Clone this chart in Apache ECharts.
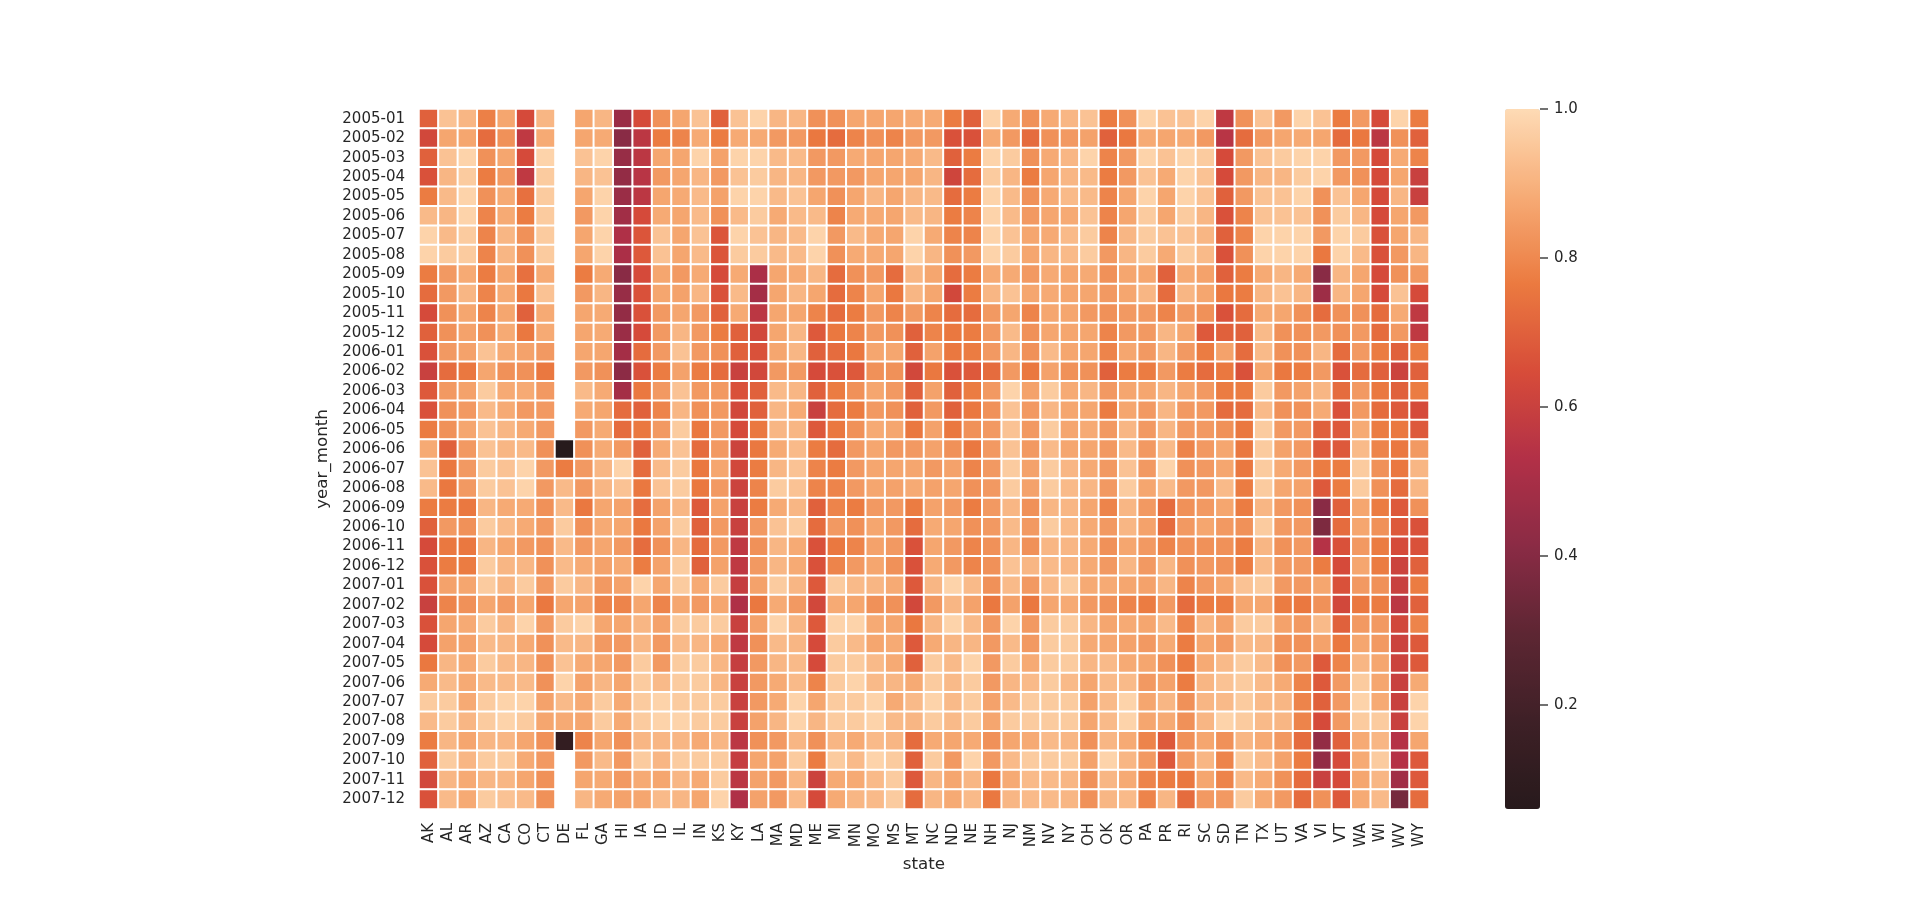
<!DOCTYPE html>
<html><head><meta charset="utf-8">
<script src="https://cdn.jsdelivr.net/npm/echarts@6/dist/echarts.min.js"></script>
<style>html,body{margin:0;padding:0;background:#fff}#c{width:1920px;height:910px}</style>
</head><body><div id="c"></div>
<script>
const states = ['AK','AL','AR','AZ','CA','CO','CT','DE','FL','GA','HI','IA','ID','IL','IN','KS','KY',
  'LA','MA','MD','ME','MI','MN','MO','MS','MT','NC','ND','NE','NH','NJ','NM','NV','NY','OH',
  'OK','OR','PA','PR','RI','SC','SD','TN','TX','UT','VA','VI','VT','WA','WI','WV','WY'];
const months = ['2005-01','2005-02','2005-03','2005-04','2005-05','2005-06','2005-07','2005-08','2005-09','2005-10','2005-11','2005-12',
  '2006-01','2006-02','2006-03','2006-04','2006-05','2006-06','2006-07','2006-08','2006-09','2006-10','2006-11','2006-12',
  '2007-01','2007-02','2007-03','2007-04','2007-05','2007-06','2007-07','2007-08','2007-09','2007-10','2007-11','2007-12'];
const colorbarTicks = [0.2, 0.4, 0.6, 0.8, 1.0];
const vMin = 0.0604, vMax = 1.0;

const m2005_01 = [.70,.94,.91,.78,.87,.64,.91,null,.87,.91,.46,.64,.82,.87,.94,.70,.94, .98,.91,.91,.82,.82,.87,.87,.87,.88,.88,.77,.70,.98,.88,.82,.88,.91,.94, .77,.82,.98,.94,.94,.98,.57,.82,.94,.84,.98,.94,.77,.84,.64,.98,.77];
const m2005_02 = [.63,.87,.87,.73,.82,.57,.88,null,.87,.88,.41,.56,.77,.79,.88,.77,.88, .88,.84,.84,.76,.73,.79,.82,.79,.84,.84,.66,.66,.88,.84,.73,.82,.84,.86, .70,.76,.88,.87,.88,.84,.55,.73,.84,.87,.88,.87,.73,.76,.56,.82,.70];
const m2005_03 = [.70,.94,.98,.82,.87,.64,.98,null,.94,.98,.45,.56,.87,.87,.98,.86,.98, .98,.92,.92,.84,.84,.88,.87,.87,.88,.92,.70,.77,.98,.96,.82,.88,.91,.98, .79,.84,.98,.94,.98,.96,.64,.84,.94,.96,.98,.98,.84,.84,.64,.88,.79];
const m2005_04 = [.66,.91,.96,.77,.84,.57,.96,null,.91,.94,.44,.55,.84,.87,.91,.84,.94, .96,.91,.91,.84,.84,.84,.87,.87,.87,.91,.62,.73,.96,.91,.77,.87,.91,.92, .77,.84,.94,.88,.98,.94,.64,.84,.91,.91,.96,.98,.84,.82,.64,.87,.60];
const m2005_05 = [.77,.92,.98,.82,.88,.74,.96,null,.87,.98,.46,.56,.87,.88,.92,.86,.98, .98,.92,.94,.87,.82,.87,.91,.87,.91,.92,.73,.77,.98,.92,.82,.88,.92,.92, .79,.87,.98,.87,.98,.94,.70,.84,.94,.94,.98,.82,.94,.87,.64,.91,.60];
const m2005_06 = [.92,.91,.98,.79,.88,.77,.96,null,.84,.98,.48,.64,.88,.87,.92,.82,.92, .96,.88,.92,.92,.79,.88,.88,.87,.92,.91,.77,.79,.98,.92,.84,.87,.88,.94, .79,.87,.96,.87,.96,.91,.66,.79,.94,.94,.94,.82,.96,.91,.64,.87,.84];
const m2005_07 = [.98,.92,.96,.79,.91,.82,.96,null,.87,.98,.52,.67,.94,.87,.94,.67,.98, .94,.91,.92,.98,.84,.92,.88,.87,.98,.88,.79,.79,.98,.94,.87,.88,.92,.96, .79,.91,.96,.94,.94,.91,.70,.79,.98,.98,.98,.84,.98,.96,.66,.87,.91];
const m2005_08 = [.98,.96,.96,.79,.91,.82,.96,null,.87,.98,.51,.68,.94,.87,.92,.67,.96, .96,.92,.92,.98,.82,.88,.88,.87,.98,.91,.82,.84,.98,.96,.87,.91,.92,.96, .84,.91,.96,.88,.96,.92,.66,.82,.98,.98,.98,.76,.98,.92,.66,.84,.91];
const m2005_09 = [.77,.84,.88,.77,.87,.74,.88,null,.77,.88,.41,.64,.87,.84,.88,.64,.88, .51,.87,.88,.91,.73,.82,.84,.73,.91,.87,.73,.77,.88,.88,.84,.88,.87,.88, .82,.87,.87,.70,.88,.86,.70,.77,.88,.91,.88,.41,.91,.87,.64,.82,.84];
const m2005_10 = [.73,.84,.91,.79,.88,.76,.94,null,.84,.91,.45,.66,.87,.86,.91,.66,.92, .49,.87,.91,.87,.73,.79,.87,.76,.91,.87,.63,.77,.91,.94,.87,.88,.87,.87, .84,.87,.91,.73,.91,.87,.76,.77,.91,.94,.91,.47,.91,.87,.64,.94,.64];
const m2005_11 = [.64,.82,.87,.79,.87,.70,.88,null,.87,.88,.44,.66,.84,.87,.84,.70,.88, .56,.87,.87,.79,.73,.77,.84,.79,.84,.79,.73,.73,.84,.87,.79,.87,.87,.84, .82,.84,.84,.79,.84,.82,.66,.73,.88,.87,.82,.73,.82,.82,.73,.88,.57];
const m2005_12 = [.70,.82,.86,.82,.88,.76,.88,null,.87,.88,.46,.64,.84,.91,.84,.77,.70, .63,.87,.91,.68,.76,.79,.84,.82,.70,.79,.76,.77,.84,.92,.82,.87,.87,.87, .79,.84,.84,.91,.87,.68,.70,.70,.92,.82,.82,.84,.82,.84,.73,.84,.57];
const m2006_01 = [.66,.84,.86,.94,.88,.86,.84,null,.87,.87,.49,.73,.84,.94,.84,.82,.70, .66,.87,.91,.70,.73,.76,.87,.87,.70,.86,.76,.77,.84,.91,.82,.92,.87,.87, .79,.87,.84,.91,.84,.77,.86,.73,.92,.82,.82,.91,.73,.84,.77,.70,.77];
const m2006_02 = [.60,.73,.76,.87,.82,.82,.76,null,.84,.82,.42,.66,.77,.86,.77,.73,.60, .63,.84,.84,.64,.66,.68,.82,.82,.63,.76,.66,.68,.73,.84,.76,.86,.82,.82, .70,.77,.77,.84,.77,.73,.76,.66,.87,.76,.77,.84,.66,.73,.70,.61,.70];
const m2006_03 = [.68,.84,.86,.96,.88,.88,.84,null,.92,.88,.49,.76,.84,.94,.84,.84,.66, .70,.92,.91,.70,.77,.82,.87,.84,.70,.86,.70,.77,.84,.98,.86,.96,.88,.91, .84,.87,.87,.91,.87,.84,.77,.77,.96,.84,.86,.91,.73,.84,.76,.70,.77];
const m2006_04 = [.66,.82,.84,.92,.88,.84,.84,null,.88,.87,.73,.70,.79,.91,.82,.84,.63, .70,.91,.88,.60,.73,.77,.84,.82,.70,.84,.70,.76,.82,.94,.84,.91,.87,.87, .77,.87,.84,.91,.84,.84,.73,.73,.92,.82,.82,.88,.66,.84,.73,.68,.64];
const m2006_05 = [.77,.82,.87,.94,.91,.88,.84,null,.84,.88,.73,.76,.84,.96,.76,.84,.64, .76,.91,.91,.68,.76,.82,.88,.87,.76,.86,.76,.82,.84,.94,.84,.96,.87,.88, .84,.91,.84,.91,.84,.84,.82,.76,.96,.84,.84,.70,.68,.88,.77,.76,.68];
const m2006_06 = [.88,.70,.84,.94,.91,.92,.82,.0604,.82,.88,.84,.70,.88,.94,.73,.84,.61, .76,.88,.92,.77,.73,.84,.87,.84,.84,.86,.82,.76,.84,.94,.84,.92,.87,.87, .84,.92,.84,.92,.79,.84,.87,.76,.96,.86,.84,.68,.68,.92,.79,.76,.84];
const m2006_07 = [.94,.76,.84,.96,.94,.98,.84,.77,.84,.91,.98,.73,.92,.96,.76,.87,.63, .77,.91,.94,.79,.77,.84,.87,.87,.87,.84,.86,.79,.84,.96,.86,.96,.91,.88, .84,.94,.84,.98,.82,.84,.87,.76,.96,.88,.84,.77,.77,.96,.82,.76,.91];
const m2006_08 = [.92,.76,.84,.96,.94,.98,.84,.92,.84,.91,.94,.76,.94,.96,.76,.84,.61, .79,.96,.94,.79,.79,.84,.87,.86,.88,.86,.87,.82,.84,.96,.86,.96,.92,.91, .84,.96,.87,.92,.84,.84,.92,.77,.96,.87,.86,.68,.77,.96,.82,.73,.91];
const m2006_09 = [.77,.77,.76,.91,.88,.88,.82,.92,.76,.87,.86,.73,.86,.91,.68,.86,.60, .77,.88,.91,.70,.79,.77,.84,.84,.77,.86,.84,.77,.84,.91,.82,.91,.91,.87, .79,.91,.84,.73,.82,.84,.87,.77,.91,.84,.82,.41,.70,.87,.77,.68,.82];
const m2006_10 = [.70,.84,.82,.96,.92,.88,.84,.96,.82,.88,.87,.76,.86,.96,.70,.84,.60, .84,.94,.96,.73,.84,.82,.87,.84,.73,.88,.87,.82,.84,.92,.84,.96,.92,.88, .84,.91,.86,.73,.84,.87,.84,.82,.96,.84,.84,.38,.73,.87,.82,.68,.66];
const m2006_11 = [.64,.76,.76,.91,.87,.84,.82,.92,.84,.87,.84,.73,.82,.91,.73,.84,.57, .82,.91,.88,.66,.76,.79,.86,.84,.66,.87,.84,.79,.82,.91,.82,.91,.91,.88, .82,.87,.84,.79,.82,.82,.82,.77,.91,.82,.84,.54,.66,.84,.77,.64,.66];
const m2006_12 = [.66,.77,.77,.96,.91,.91,.82,.92,.88,.86,.88,.77,.86,.96,.70,.86,.57, .84,.91,.88,.66,.79,.84,.87,.82,.66,.88,.84,.79,.82,.94,.91,.92,.91,.88, .84,.91,.84,.91,.82,.84,.82,.77,.92,.84,.84,.77,.64,.87,.77,.61,.70];
const m2007_01 = [.66,.86,.87,.96,.91,.96,.84,.96,.91,.84,.86,.98,.87,.96,.88,.96,.59, .86,.96,.91,.68,.96,.92,.91,.88,.68,.91,.98,.92,.82,.92,.84,.92,.96,.88, .88,.87,.86,.91,.79,.84,.87,.94,.96,.84,.84,.87,.66,.84,.82,.60,.77];
const m2007_02 = [.60,.79,.82,.87,.84,.87,.76,.87,.86,.79,.79,.87,.79,.87,.84,.87,.52, .76,.88,.84,.63,.88,.87,.82,.82,.63,.84,.91,.86,.76,.86,.76,.87,.88,.84, .82,.79,.77,.84,.73,.77,.77,.87,.87,.77,.76,.82,.63,.76,.77,.56,.70];
const m2007_03 = [.66,.87,.88,.96,.91,.98,.84,.96,.98,.87,.87,.91,.86,.96,.96,.96,.60, .86,.98,.91,.68,.98,.98,.88,.87,.76,.91,.98,.92,.84,.98,.84,.96,.96,.91, .87,.88,.87,.92,.79,.91,.86,.96,.96,.86,.84,.92,.70,.84,.84,.63,.79];
const m2007_04 = [.64,.86,.86,.92,.91,.88,.82,.92,.91,.84,.84,.91,.84,.92,.91,.88,.57, .82,.92,.91,.64,.96,.92,.87,.88,.68,.88,.91,.91,.84,.92,.84,.96,.96,.88, .87,.86,.84,.88,.77,.87,.84,.92,.91,.82,.82,.86,.76,.87,.84,.61,.68];
const m2007_05 = [.76,.91,.88,.96,.92,.91,.82,.94,.88,.87,.84,.96,.84,.96,.96,.91,.59, .84,.91,.92,.64,.96,.96,.92,.88,.70,.96,.92,.98,.84,.96,.88,.96,.96,.91, .92,.88,.87,.82,.77,.88,.92,.96,.92,.82,.84,.68,.79,.91,.87,.61,.68];
const m2007_06 = [.88,.92,.88,.92,.92,.92,.82,.98,.86,.91,.87,.96,.92,.96,.96,.91,.60, .84,.88,.92,.79,.96,.98,.92,.91,.88,.96,.92,.96,.84,.91,.92,.96,.92,.87, .92,.92,.84,.86,.77,.91,.94,.96,.92,.88,.79,.68,.84,.96,.87,.60,.88];
const m2007_07 = [.96,.96,.88,.96,.98,.98,.86,.92,.88,.96,.88,.96,.98,.96,.96,.96,.60, .84,.88,.98,.87,.96,.96,.98,.88,.92,.98,.92,.96,.86,.92,.96,.96,.96,.86, .92,.98,.87,.91,.82,.91,.92,.96,.92,.91,.79,.70,.84,.98,.88,.60,.98];
const m2007_08 = [.92,.96,.91,.96,.98,.96,.87,.88,.87,.96,.88,.96,.98,.98,.96,.96,.60, .86,.91,.98,.91,.96,.96,.98,.92,.91,.96,.92,.96,.87,.96,.96,.96,.96,.87, .92,.98,.87,.88,.82,.91,.98,.96,.92,.91,.79,.64,.84,.96,.96,.60,.98];
const m2007_09 = [.77,.91,.87,.91,.91,.87,.82,.12,.79,.87,.82,.91,.91,.91,.88,.91,.56, .82,.84,.91,.82,.91,.88,.92,.91,.73,.88,.87,.88,.82,.87,.88,.92,.91,.82, .91,.88,.79,.68,.82,.87,.82,.91,.88,.84,.73,.44,.70,.88,.91,.54,.87];
const m2007_10 = [.70,.96,.91,.96,.96,.88,.84,null,.84,.92,.84,.96,.91,.96,.96,.96,.59, .87,.86,.96,.77,.96,.92,.98,.96,.70,.96,.84,.98,.84,.92,.96,.96,.96,.86, .98,.91,.84,.68,.84,.91,.79,.96,.92,.86,.77,.44,.64,.88,.96,.54,.68];
const m2007_11 = [.63,.91,.88,.91,.91,.87,.82,null,.87,.88,.84,.88,.87,.91,.88,.96,.56, .86,.84,.91,.61,.88,.88,.92,.96,.68,.91,.87,.91,.76,.88,.92,.92,.91,.82, .91,.88,.79,.77,.76,.87,.79,.92,.88,.82,.73,.60,.64,.87,.91,.48,.68];
const m2007_12 = [.66,.92,.88,.96,.94,.92,.82,null,.91,.88,.86,.87,.92,.91,.87,.98,.52, .86,.84,.92,.64,.88,.91,.92,.96,.73,.91,.88,.92,.76,.91,.92,.92,.91,.82, .91,.92,.79,.91,.73,.84,.84,.96,.88,.84,.73,.82,.68,.88,.92,.36,.73];

const rows = [m2005_01,m2005_02,m2005_03,m2005_04,m2005_05,m2005_06,m2005_07,m2005_08,m2005_09,m2005_10,m2005_11,m2005_12,
  m2006_01,m2006_02,m2006_03,m2006_04,m2006_05,m2006_06,m2006_07,m2006_08,m2006_09,m2006_10,m2006_11,m2006_12,
  m2007_01,m2007_02,m2007_03,m2007_04,m2007_05,m2007_06,m2007_07,m2007_08,m2007_09,m2007_10,m2007_11,m2007_12];

const data = [];
rows.forEach((r, yi) => r.forEach((v, xi) => data.push([xi, yi, v == null ? '-' : v])));

const font = 'DejaVu Sans';
const txt = '#262626';
const chart = echarts.init(document.getElementById('c'), null, {renderer: 'canvas'});
chart.setOption({
  animation: false,
  backgroundColor: '#fff',
  textStyle: {fontFamily: font},
  grid: [
    {left: 419, top: 109, width: 1010, height: 700},
    {left: 1505, top: 109, width: 35, height: 700}
  ],
  xAxis: [
    {type: 'category', data: states, gridIndex: 0,
     axisLine: {show: false}, axisTick: {show: false}, splitLine: {show: false},
     axisLabel: {rotate: 90, interval: 0, fontSize: 15, color: txt, margin: 14, fontFamily: font},
     name: 'state', nameLocation: 'middle', nameGap: 45,
     nameTextStyle: {fontSize: 16.7, color: txt, fontFamily: font}},
    {type: 'value', gridIndex: 1, show: false, min: 0, max: 1}
  ],
  yAxis: [
    {type: 'category', data: months, inverse: true, gridIndex: 0,
     axisLine: {show: false}, axisTick: {show: false}, splitLine: {show: false},
     axisLabel: {interval: 0, fontSize: 15, color: txt, margin: 14, fontFamily: font},
     name: 'year_month', nameLocation: 'middle', nameGap: 82, nameRotate: 90,
     nameTextStyle: {fontSize: 16.7, color: txt, fontFamily: font}},
    {type: 'value', gridIndex: 1, position: 'right', min: vMin, max: vMax,
     axisLine: {show: false}, splitLine: {show: false}, axisTick: {show: false},
     axisLabel: {show: true, fontSize: 15, color: txt, margin: 14, fontFamily: font, customValues: colorbarTicks,
                 formatter: v => Number(v).toFixed(1)}}
  ],
  visualMap: {
    type: 'continuous', min: vMin, max: vMax, seriesIndex: 0, calculable: false, show: true,
    orient: 'vertical', left: 1505, top: 109, itemWidth: 35, itemHeight: 700, padding: 0,
    text: null, hoverLink: false, z: 1,
    textStyle: {color: 'rgba(0,0,0,0)'},
    inRange: {color: ['#271A1C','#3E2026','#5D2633','#8A2B45','#B23047','#D74C39','#EB7A40','#F6AB75','#FEDBB5']}
  },
  series: [
    {type: 'heatmap', xAxisIndex: 0, yAxisIndex: 0, data: data,
     itemStyle: {borderColor: '#ffffff', borderWidth: 2},
     emphasis: {disabled: true}, progressive: 0},
    {type: 'custom', xAxisIndex: 1, yAxisIndex: 1, silent: true, clip: false, z: 10,
     data: colorbarTicks.map(v => [1, v]),
     renderItem: (params, api) => {
       const p = api.coord([api.value(0), api.value(1)]);
       return {type: 'line', shape: {x1: p[0], y1: p[1], x2: p[0] + 8, y2: p[1]},
               style: {stroke: txt, lineWidth: 1.3}};
     }}
  ]
});
</script>
</body></html>
